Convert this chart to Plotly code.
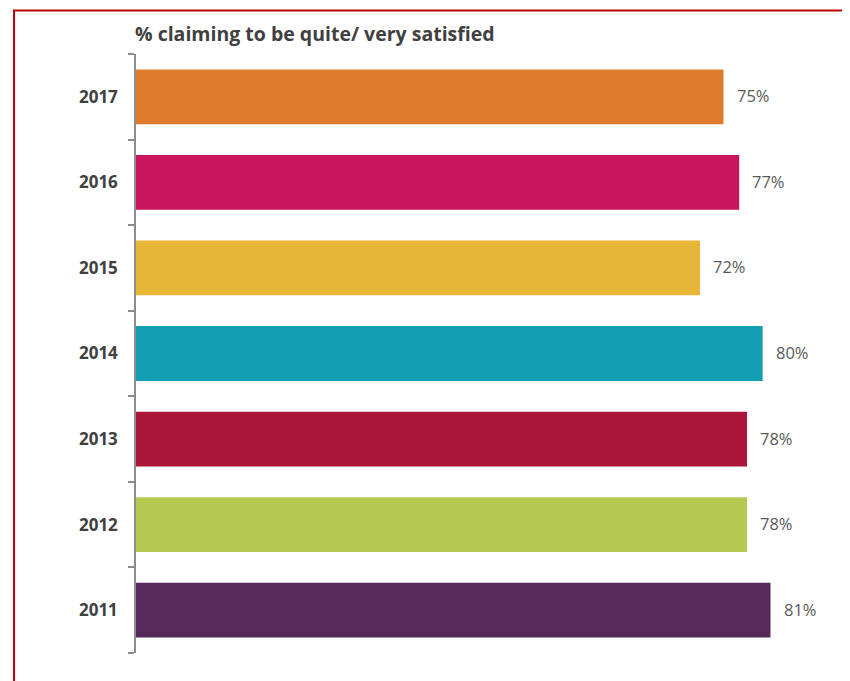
import plotly.graph_objects as go

years = ["2017", "2016", "2015", "2014", "2013", "2012", "2011"]
values = [75, 77, 72, 80, 78, 78, 81]
colors = ["#E07B2C", "#C8155C", "#E8B637", "#129FB4", "#AA1538", "#B5C951", "#552A5A"]
title_text = "% claiming to be quite/ very satisfied"

W, H = 842, 673  # page body adds an 8px margin

order = years[::-1]  # bottom-to-top category order

fig = go.Figure()
fig.add_trace(go.Bar(
    x=values, y=years, orientation="h",
    marker=dict(color=colors, line=dict(width=0)),
    hoverinfo="skip",
))

for v, yr in zip(values, years):
    fig.add_annotation(x=v, y=order.index(yr), xref="x", yref="y", text=f"{v}%", showarrow=False,
                       xanchor="left", yanchor="middle", xshift=11, yshift=1,
                       font=dict(family="Open Sans", size=16.5, color="#595959"))

fig.add_shape(type="rect", xref="paper", yref="paper",
              x0=-0.173, x1=1.2, y0=-0.3, y1=1.0726,
              line=dict(color="#C00000", width=2), fillcolor="rgba(0,0,0,0)", layer="above")

fig.update_layout(
    width=W, height=H,
    margin=dict(l=128, r=9, t=46, b=28, autoexpand=False),
    paper_bgcolor="white", plot_bgcolor="white",
    bargap=0.36, showlegend=False,
    title=dict(text=title_text, x=127/W, xanchor="left", y=1 - 26/H, yanchor="middle",
               font=dict(family="Open Sans", size=19.5, color="#404040", weight="bold")),
    xaxis=dict(range=[0, 90], visible=False, fixedrange=True),
    yaxis=dict(type="category", categoryorder="array", categoryarray=order,
               range=[-0.5, len(years) - 0.5],
               showline=True, linecolor="#8C8C8C", linewidth=1.5,
               ticks="outside", ticklen=6, tickcolor="#8C8C8C", tickwidth=1.5,
               tickson="boundaries", showgrid=False, zeroline=False,
               ticklabelstandoff=13,
               tickfont=dict(family="Open Sans", size=17, color="#404040", weight="bold")),
)

fig.write_html("out.html")
